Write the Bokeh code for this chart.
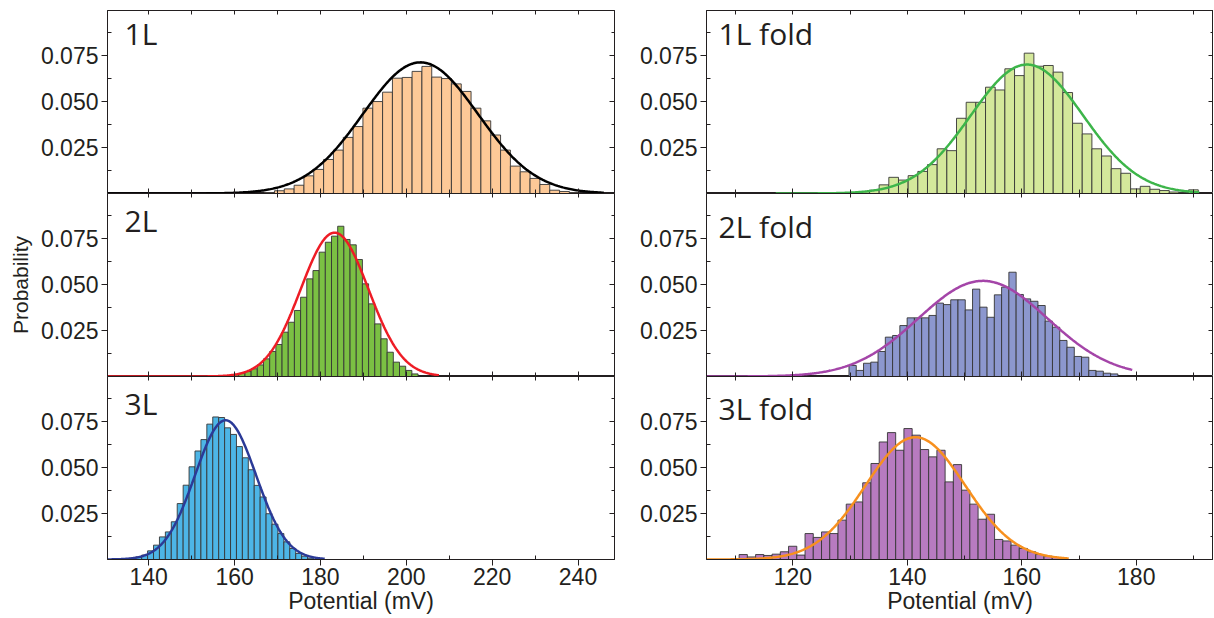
import numpy as np
from bokeh.plotting import figure
from bokeh.models import (LinearAxis, FixedTicker, Range1d, Label,
                          CustomJSTickFormatter, PrintfTickFormatter, ColumnDataSource)
from bokeh.layouts import row, column
from bokeh.embed import file_html
from bokeh.resources import INLINE

# ---------------- data ----------------
panel_labels = ["1L", "2L", "3L", "1L fold", "2L fold", "3L fold"]

# histogram bins: first bin edge (mV), bin width (mV), probability per bin
bin_start_1L, bin_width_1L = 167.0, 2.29
prob_1L = [0.0005, 0.0015, 0.0025, 0.0045, 0.0096, 0.0131, 0.0185, 0.0236, 0.0305, 0.0364,
           0.0464, 0.0500, 0.0551, 0.0627, 0.0631, 0.0664, 0.0691, 0.0633, 0.0625, 0.0596,
           0.0555, 0.0464, 0.0395, 0.0318, 0.0236, 0.0149, 0.0118, 0.0082, 0.0049, 0.0018,
           0.0011, 0.0005]

bin_start_2L, bin_width_2L = 158.1, 1.44
prob_2L = [0.0004, 0.0009, 0.0018, 0.0027, 0.0042, 0.0063, 0.0096, 0.0136, 0.0174, 0.0241,
           0.0295, 0.0359, 0.0431, 0.0531, 0.0576, 0.0676, 0.0730, 0.0763, 0.0817, 0.0745,
           0.0716, 0.0636, 0.0504, 0.0395, 0.0286, 0.0205, 0.0132, 0.0078, 0.0056, 0.0033,
           0.0014]

bin_start_3L, bin_width_3L = 135.6, 1.38
prob_3L = [0.0007, 0.0014, 0.0024, 0.0047, 0.0078, 0.0123, 0.0150, 0.0205, 0.0304, 0.0404,
           0.0504, 0.0590, 0.0652, 0.0736, 0.0775, 0.0772, 0.0716, 0.0680, 0.0614, 0.0553,
           0.0488, 0.0403, 0.0340, 0.0249, 0.0192, 0.0141, 0.0096, 0.0060, 0.0033, 0.0018,
           0.0007]

bin_start_1Lf, bin_width_1Lf = 130.0, 1.69
prob_1Lf = [0.0005, 0.0010, 0.0018, 0.0047, 0.0088, 0.0073, 0.0097, 0.0120, 0.0157, 0.0243,
            0.0233, 0.0409, 0.0496, 0.0496, 0.0578, 0.0563, 0.0678, 0.0641, 0.0763, 0.0692,
            0.0696, 0.0660, 0.0549, 0.0382, 0.0324, 0.0243, 0.0204, 0.0135, 0.0110, 0.0025,
            0.0039, 0.0023, 0.0016, 0.0008, 0.0004, 0.0020]

bin_start_2Lf, bin_width_2Lf = 129.8, 1.27
prob_2Lf = [0.0060, 0.0033, 0.0072, 0.0078, 0.0136, 0.0214, 0.0223, 0.0277, 0.0319, 0.0319,
            0.0319, 0.0332, 0.0399, 0.0391, 0.0417, 0.0417, 0.0362, 0.0475, 0.0377, 0.0322,
            0.0444, 0.0486, 0.0567, 0.0446, 0.0422, 0.0409, 0.0386, 0.0301, 0.0268, 0.0196,
            0.0159, 0.0109, 0.0105, 0.0033, 0.0029, 0.0018, 0.0014]

bin_start_3Lf, bin_width_3Lf = 110.6, 1.44
prob_3Lf = [0.0027, 0.0014, 0.0027, 0.0022, 0.0029, 0.0042, 0.0072, 0.0024, 0.0141, 0.0120,
            0.0150, 0.0141, 0.0214, 0.0301, 0.0313, 0.0417, 0.0522, 0.0639, 0.0690, 0.0594,
            0.0712, 0.0676, 0.0598, 0.0558, 0.0594, 0.0422, 0.0516, 0.0377, 0.0301, 0.0219,
            0.0246, 0.0109, 0.0101, 0.0078, 0.0060, 0.0042, 0.0027, 0.0018, 0.0011]

# Gaussian fits: peak probability, centre (mV), sigma (mV), drawn from, drawn to (mV)
fit_1L = (0.0713, 203.3, 13.4, 130.4, 246.0)
fit_2L = (0.0782, 183.3, 7.9, 130.4, 207.6)
fit_3L = (0.0757, 157.9, 7.1, 130.4, 181.0)
fit_1Lf = (0.0701, 160.9, 9.8, 117.0, 191.0)
fit_2Lf = (0.0520, 153.2, 11.3, 104.9, 179.3)
fit_3Lf = (0.0665, 141.4, 8.7, 104.9, 168.2)

x_ticks_left = [140, 160, 180, 200, 220, 240]
x_minor_left = [150, 170, 190, 210, 230]
x_top_left = [140, 150, 160, 170, 180, 190, 200, 210, 220, 230, 240]
x_ticks_right = [120, 140, 160, 180]
x_minor_right = [110, 130, 150, 170, 190]
x_top_right = [110, 120, 130, 140, 150, 160, 170, 180, 190]
y_ticks = [0.025, 0.050, 0.075]
y_minor = [0.0125, 0.0375, 0.0625, 0.0875]

bar_colors = ["#FDC997", "#7BC043", "#4DB5E6", "#D4E89B", "#8C97CE", "#B77BC0"]
fit_colors = ["#000000", "#EE1C25", "#2B3A97", "#3DB54A", "#A445A8", "#F7901E"]

# ---------------- drawing ----------------
TEXT = "#231f20"
FRAME = "#231f20"
TICK_FONT = "Liberation Sans"
EMPTY = "return ''"


def hidden_axis(ticker, tick_in, minor_in):
    ax = LinearAxis(ticker=ticker, formatter=CustomJSTickFormatter(code=EMPTY))
    ax.major_label_text_font_size = "0px"
    ax.major_label_standoff = 0
    ax.major_tick_in = tick_in
    ax.major_tick_out = 0
    ax.minor_tick_in = minor_in
    ax.minor_tick_out = 0
    ax.axis_line_color = FRAME
    ax.major_tick_line_color = FRAME
    ax.minor_tick_line_color = FRAME
    return ax


def panel(idx, start, width, probs, fit):
    col = 0 if idx < 3 else 1
    r = idx % 3
    left_col = col == 0
    xr = (130.4, 248.5) if left_col else (104.9, 193.5)
    p = figure(frame_width=507, frame_height=183,
               x_range=Range1d(*xr), y_range=Range1d(0, 0.0995),
               output_backend="svg", toolbar_location=None,
               min_border_left=107 if left_col else 75,
               min_border_right=17 if left_col else 0,
               min_border_top=10 if r == 0 else 0,
               min_border_bottom=59 if r == 2 else 0)
    p.xgrid.visible = False
    p.ygrid.visible = False
    p.outline_line_color = FRAME
    p.outline_line_width = 1
    p.background_fill_color = "white"
    p.border_fill_color = "white"

    edges = start + width * np.arange(len(probs))
    src = ColumnDataSource(dict(left=edges, right=edges + width, top=probs))
    p.quad(left="left", right="right", top="top", bottom=0, source=src,
           fill_color=bar_colors[idx], line_color="#363636", line_width=0.9)

    amp, mu, sig, lo, hi = fit
    xs = np.linspace(lo, hi, 400)
    p.line(xs, amp * np.exp(-0.5 * ((xs - mu) / sig) ** 2),
           line_color=fit_colors[idx], line_width=2.5)

    # bottom x axis
    xa = p.xaxis[0]
    xmaj = x_ticks_left if left_col else x_ticks_right
    xmin = x_minor_left if left_col else x_minor_right
    xa.ticker = FixedTicker(ticks=xmaj, minor_ticks=xmin)
    xa.axis_line_color = FRAME
    xa.major_tick_line_color = FRAME
    xa.minor_tick_line_color = FRAME
    xa.minor_tick_in = 4
    xa.minor_tick_out = 0
    if r == 2:
        xa.major_tick_out = 6
        xa.major_tick_in = 0
        xa.major_label_standoff = 2
        xa.major_label_text_font = TICK_FONT
        xa.major_label_text_font_size = "23px"
        xa.major_label_text_color = TEXT
        xa.axis_label = "Potential (mV)"
        xa.axis_label_text_font = TICK_FONT
        xa.axis_label_text_font_size = "23px"
        xa.axis_label_text_font_style = "normal"
        xa.axis_label_text_color = TEXT
        xa.axis_label_standoff = 0
    else:
        xa.formatter = CustomJSTickFormatter(code=EMPTY)
        xa.major_label_text_font_size = "0px"
        xa.major_label_standoff = 0
        xa.major_tick_out = 0
        xa.major_tick_in = 5

    # left y axis
    ya = p.yaxis[0]
    ya.ticker = FixedTicker(ticks=y_ticks, minor_ticks=y_minor)
    ya.formatter = PrintfTickFormatter(format="%.3f")
    ya.axis_line_color = FRAME
    ya.major_tick_line_color = FRAME
    ya.minor_tick_line_color = FRAME
    ya.major_tick_out = 6
    ya.major_tick_in = 0
    ya.minor_tick_in = 4
    ya.minor_tick_out = 0
    ya.major_label_standoff = 3
    ya.major_label_text_font = TICK_FONT
    ya.major_label_text_font_size = "23px"
    ya.major_label_text_color = TEXT
    if left_col and r == 1:
        ya.axis_label = "Probability"
        ya.axis_label_text_font = TICK_FONT
        ya.axis_label_text_font_size = "21px"
        ya.axis_label_text_font_style = "normal"
        ya.axis_label_text_color = TEXT
        ya.axis_label_standoff = 6

    # mirrored ticks on top and right
    p.add_layout(hidden_axis(FixedTicker(ticks=x_top_left if left_col else x_top_right,
                                         minor_ticks=[]), 4, 0), "above")
    p.add_layout(hidden_axis(FixedTicker(ticks=y_ticks, minor_ticks=y_minor), 5, 3), "right")

    dy = [23, 27, 27][r] if left_col else [23, 33, 32][r]
    dx = 17 if left_col else 12
    p.add_layout(Label(x=xr[0], y=0.0995, x_offset=dx, y_offset=-dy,
                       text=panel_labels[idx], text_font="Open Sans",
                       text_font_size="30px", text_color=TEXT,
                       text_baseline="alphabetic", text_align="left"))
    return p


panels = [
    panel(0, bin_start_1L, bin_width_1L, prob_1L, fit_1L),
    panel(1, bin_start_2L, bin_width_2L, prob_2L, fit_2L),
    panel(2, bin_start_3L, bin_width_3L, prob_3L, fit_3L),
    panel(3, bin_start_1Lf, bin_width_1Lf, prob_1Lf, fit_1Lf),
    panel(4, bin_start_2Lf, bin_width_2Lf, prob_2Lf, fit_2Lf),
    panel(5, bin_start_3Lf, bin_width_3Lf, prob_3Lf, fit_3Lf),
]

layout = row(column(*panels[:3]), column(*panels[3:]))
open("out.html", "w").write(file_html(layout, INLINE))
